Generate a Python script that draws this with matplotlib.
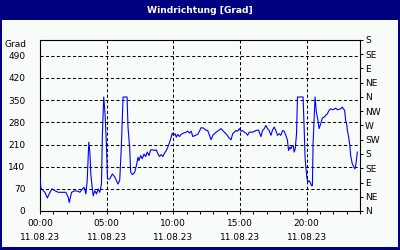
import matplotlib
matplotlib.use("Agg")
import matplotlib.pyplot as plt
from matplotlib.patches import Rectangle

# ---- data -------------------------------------------------------------
hours = [0.0, 0.07, 0.2, 0.37, 0.55, 0.75, 0.9, 1.12, 1.37, 1.62, 1.94, 2.12, 2.19,
         2.37, 2.62, 2.86, 2.99, 3.19, 3.31, 3.44, 3.54, 3.66, 3.74, 3.81, 3.91, 3.99,
         4.11, 4.24, 4.36, 4.48, 4.61, 4.68, 4.78, 4.88, 4.98, 5.06, 5.23, 5.43, 5.61,
         5.85, 5.98, 6.10, 6.23, 6.53, 6.60, 6.73, 6.80, 6.93, 7.10, 7.23, 7.35, 7.42,
         7.55, 7.67, 7.80, 7.92, 8.05, 8.17, 8.30, 8.47, 8.60, 8.72, 8.85, 8.97, 9.09,
         9.22, 9.34, 9.47, 9.59, 9.72, 9.84, 9.92, 10.02, 10.14, 10.22, 10.34, 10.46,
         10.59, 10.76, 10.96, 11.09, 11.21, 11.34, 11.46, 11.66, 11.83, 11.96, 12.08,
         12.26, 12.41, 12.58, 12.71, 12.83, 12.96, 13.21, 13.45, 13.58, 13.70, 13.95,
         14.20, 14.33, 14.45, 14.58, 14.70, 14.82, 14.95, 15.07, 15.20, 15.32, 15.45,
         15.57, 15.70, 15.95, 16.20, 16.39, 16.57, 16.69, 16.82, 16.94, 17.07, 17.19,
         17.32, 17.44, 17.57, 17.69, 17.81, 17.94, 18.06, 18.19, 18.31, 18.44, 18.56,
         18.64, 18.74, 18.81, 18.89, 18.99, 19.06, 19.14, 19.24, 19.31, 19.73, 19.81,
         19.88, 19.93, 20.01, 20.08, 20.18, 20.26, 20.36, 20.43, 20.48, 20.58, 20.63,
         20.73, 20.85, 20.93, 21.05, 21.18, 21.30, 21.43, 21.55, 21.68, 21.80, 21.93,
         22.05, 22.17, 22.30, 22.42, 22.55, 22.67, 22.75, 22.85, 22.92, 23.00, 23.05,
         23.17, 23.25, 23.30, 23.42, 23.55, 23.62, 23.70, 23.80]
direction = [104, 72, 66, 59, 41, 59, 70, 64, 59, 59, 59, 43, 27,
             59, 64, 62, 59, 70, 75, 54, 96, 217, 186, 117, 75, 48,
             64, 54, 70, 59, 85, 244, 360, 307, 212, 101, 101, 117, 107,
             85, 98, 202, 360, 360, 265, 196, 122, 115, 122, 143, 170, 159,
             175, 165, 180, 172, 186, 175, 193, 193, 191, 193, 180, 172, 178,
             172, 183, 191, 202, 217, 233, 246, 239, 244, 233, 242, 235,
             242, 246, 249, 252, 246, 252, 235, 239, 242, 252, 263,
             262, 256, 254, 239, 225, 239, 249, 256, 260, 254, 244,
             230, 225, 244, 249, 254, 252, 260, 252, 254, 249, 246,
             239, 249, 249, 254, 256, 235, 254, 260, 270, 260, 254,
             239, 256, 265, 254, 239, 244, 239, 254, 252, 239, 223,
             191, 202, 196, 204, 207, 186, 196, 244, 360, 360, 265,
             170, 143, 107, 91, 96, 91, 80, 80, 212, 307, 360,
             312, 286, 260, 275, 294, 296, 302, 307, 318, 323, 320,
             321, 325, 320, 321, 323, 328, 323, 318, 286, 275, 256,
             228, 202, 175, 149, 138, 133, 149, 186]

left_ticks = [0, 70, 140, 210, 280, 350, 420, 490]
right_ticks = [0, 45, 90, 135, 180, 225, 270, 315, 360, 405, 450, 495, 540]
right_labels = ["N", "NE", "E", "SE", "S", "SW", "W", "NW", "N", "NE", "E", "SE", "S"]
x_major = [0, 5, 10, 15, 20]
x_labels = ["00:00\n11.08.23", "05:00\n11.08.23", "10:00\n11.08.23",
            "15:00\n11.08.23", "20:00\n11.08.23"]
title = "Windrichtung [Grad]"
unit = "Grad"

# ---- figure -----------------------------------------------------------
W, H = 400, 250
navy = "#000080"
panel = "#F8FCF8"
fs = 6.5

fig = plt.figure(figsize=(4, 2.5), dpi=100, facecolor=navy)
fig.patches.append(Rectangle((2 / W, 3 / H), 396 / W, 227 / H,
                             transform=fig.transFigure, facecolor=panel,
                             edgecolor="none", zorder=-5))
fig.text(0.5, 1 - 10.5 / H, title, color="white", fontsize=6.6,
         fontweight="bold", ha="center", va="center")

ax = fig.add_axes([40 / W, (H - 211) / H, 320 / W, 171 / H])
ax.set_facecolor(panel)
ax.plot(hours, direction, color="#0000FF", lw=0.8, zorder=3)

ax.set_xlim(0, 24)
ax.set_ylim(0, 540)

ax.set_yticks(left_ticks)
ax.set_yticklabels([str(t) for t in left_ticks], fontsize=fs)
ax.tick_params(axis="y", length=0, pad=10.5)

ax.set_xticks(x_major)
ax.set_xticklabels(x_labels, fontsize=fs, linespacing=1.75)
ax.set_xticks(range(0, 25), minor=True)
ax.tick_params(axis="x", which="both", length=2.5, width=0.7, pad=3, direction="out")

ax.grid(True, which="major", color="black", linestyle=(0, (3, 2.2)), linewidth=0.75)
for s in ax.spines.values():
    s.set_linewidth(0.8)
    s.set_color("black")

ax.annotate(unit, xy=(0, 1), xycoords="axes fraction", xytext=(-9.4, -3.6),
            textcoords="offset points", ha="right", va="center", fontsize=fs)

ax2 = ax.twinx()
ax2.set_ylim(0, 540)
ax2.set_yticks(right_ticks)
ax2.set_yticklabels(right_labels, fontsize=fs)
ax2.tick_params(axis="y", length=2.2, width=0.7, pad=1.5)
for s in ax2.spines.values():
    s.set_visible(False)

fig.savefig("out.png", dpi=100, facecolor=navy)
